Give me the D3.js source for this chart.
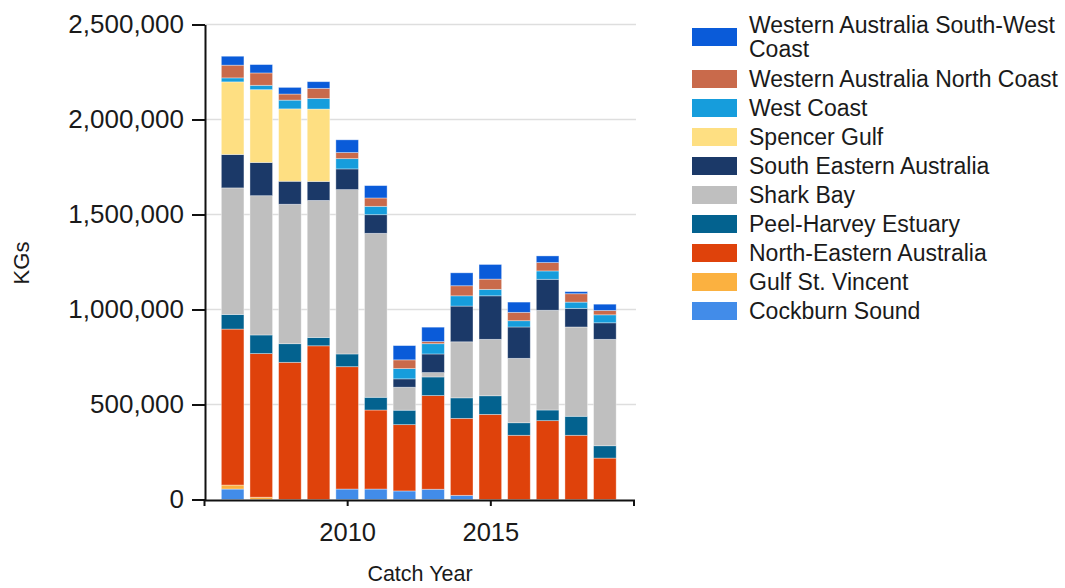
<!DOCTYPE html>
<html>
<head>
<meta charset="utf-8">
<script src="https://cdn.jsdelivr.net/npm/d3@7"></script>
<style>
  html, body { margin: 0; padding: 0; background: #fff; }
  svg { display: block; font-family: "Liberation Sans", Arial, sans-serif; }
</style>
</head>
<body>
<svg id="chart" width="1065" height="588"></svg>
<script>
// ---- data (kg) ----
const years = [2006, 2007, 2008, 2009, 2010, 2011, 2012, 2013, 2014, 2015, 2016, 2017, 2018, 2019];
const seriesNames = [
  "Cockburn Sound", "Gulf St. Vincent", "North-Eastern Australia", "Peel-Harvey Estuary",
  "Shark Bay", "South Eastern Australia", "Spencer Gulf", "West Coast",
  "Western Australia North Coast", "Western Australia South-West Coast"
];
const cockburnSound      = [55000, 0, 0, 0, 55000, 55000, 45000, 54000, 22000, 0, 0, 0, 0, 0];
const gulfStVincent      = [21000, 12000, 0, 0, 0, 0, 0, 0, 0, 0, 0, 0, 0, 0];
const northEastern       = [821000, 756000, 722000, 809000, 644000, 416000, 349000, 493000, 405000, 448000, 338000, 415000, 338000, 218000];
const peelHarvey         = [77000, 98000, 98000, 44000, 67000, 67000, 76000, 98000, 108000, 98000, 66000, 56000, 100000, 65000];
const sharkBay           = [666000, 733000, 734000, 721000, 865000, 863000, 121000, 23000, 295000, 297000, 339000, 525000, 470000, 560000];
const southEastern       = [176000, 175000, 121000, 100000, 109000, 98000, 44000, 98000, 188000, 229000, 165000, 163000, 98000, 87000];
const spencerGulf        = [382000, 383000, 381000, 381000, 0, 0, 0, 0, 0, 0, 0, 0, 0, 0];
const westCoast          = [21000, 23000, 46000, 56000, 54000, 44000, 54000, 54000, 54000, 34000, 33000, 44000, 33000, 42000];
const waNorthCoast       = [67000, 65000, 32000, 53000, 32000, 44000, 46000, 11000, 53000, 54000, 44000, 44000, 44000, 23000];
const waSouthWestCoast   = [47000, 44000, 35000, 35000, 67000, 65000, 75000, 76000, 68000, 77000, 54000, 35000, 11000, 33000];
const seriesValues = [cockburnSound, gulfStVincent, northEastern, peelHarvey, sharkBay,
  southEastern, spencerGulf, westCoast, waNorthCoast, waSouthWestCoast];
const colors = ["#428ce9", "#fbb140", "#df420b", "#03628f", "#bfbfbf",
  "#1b3968", "#fedf82", "#169ddc", "#c96a4b", "#0a5bd9"];
const yTicks = [0, 500000, 1000000, 1500000, 2000000, 2500000];
const xTicks = [2010, 2015];

// ---- build table ----
const table = years.map((yr, i) => {
  const row = { year: yr };
  seriesNames.forEach((s, k) => row[s] = seriesValues[k][i]);
  return row;
});
const stack = d3.stack().keys(seriesNames)(table);

const svg = d3.select("#chart");
const x = d3.scaleLinear().domain([2005, 2020]).range([204, 633.5]);
const y = d3.scaleLinear().domain([0, 2500000]).range([499.5, 24.5]);
const barW = 22.6;

// gridlines
svg.append("g").selectAll("line").data(yTicks.filter(d => d > 0)).join("line")
  .attr("x1", 205).attr("x2", 636)
  .attr("y1", d => y(d)).attr("y2", d => y(d))
  .attr("stroke", "#dedede").attr("stroke-width", 1.6);

// bars
const color = d3.scaleOrdinal().domain(seriesNames).range(colors);
svg.append("g").selectAll("g").data(stack).join("g")
  .attr("fill", d => color(d.key))
  .selectAll("rect").data(d => d.filter(p => p[1] - p[0] > 0)).join("rect")
  .attr("x", d => x(d.data.year) - barW / 2)
  .attr("width", barW)
  .attr("y", d => y(d[1]))
  .attr("height", d => y(d[0]) - y(d[1]))
  .attr("stroke", "rgba(255,255,255,0.45)")
  .attr("stroke-width", 0.8);

// y axis
const yAxis = svg.append("g").attr("transform", "translate(205,0)")
  .call(d3.axisLeft(y).tickValues(yTicks).tickFormat(d3.format(",")).tickSize(13).tickSizeOuter(0).tickPadding(8));
yAxis.selectAll("text").attr("font-size", 26).attr("fill", "#1a1a1a")
  .attr("font-family", "'Liberation Sans', Arial, sans-serif");
yAxis.selectAll("line, path").attr("stroke", "#111").attr("stroke-width", 2);

// x axis
const xAxis = svg.append("g").attr("transform", "translate(0,500)")
  .call(d3.axisBottom(x).tickValues(xTicks).tickFormat(d3.format("d")).tickSize(6).tickSizeOuter(6).tickPadding(17));
xAxis.selectAll("text").attr("font-size", 25.5).attr("fill", "#1a1a1a")
  .attr("font-family", "'Liberation Sans', Arial, sans-serif");
xAxis.selectAll("line, path").attr("stroke", "#111").attr("stroke-width", 2);

// axis titles
svg.append("text").attr("x", 420).attr("y", 581)
  .attr("text-anchor", "middle").attr("font-size", 21.5).attr("fill", "#1a1a1a")
  .text("Catch Year");
svg.append("text").attr("transform", "translate(29,263) rotate(-90)")
  .attr("text-anchor", "middle").attr("font-size", 22).attr("fill", "#1a1a1a")
  .text("KGs");

// legend (reverse order)
const legendItems = seriesNames.slice().reverse();
const rowY = [37, 79, 108, 137, 166, 195, 224, 253, 282, 311];
const legend = svg.append("g");
legendItems.forEach((name, i) => {
  const cy = rowY[i];
  legend.append("rect").attr("x", 692).attr("y", cy - 9).attr("width", 45).attr("height", 18)
    .attr("fill", color(name));
  if (name === "Western Australia South-West Coast") {
    const t = legend.append("text").attr("x", 749).attr("font-size", 23).attr("fill", "#1a1a1a");
    t.append("tspan").attr("x", 749).attr("y", 25 + 8).text("Western Australia South-West");
    t.append("tspan").attr("x", 749).attr("y", 49 + 8).text("Coast");
  } else {
    legend.append("text").attr("x", 749).attr("y", cy + 8).attr("font-size", 23)
      .attr("fill", "#1a1a1a").text(name);
  }
});
</script>
</body>
</html>
